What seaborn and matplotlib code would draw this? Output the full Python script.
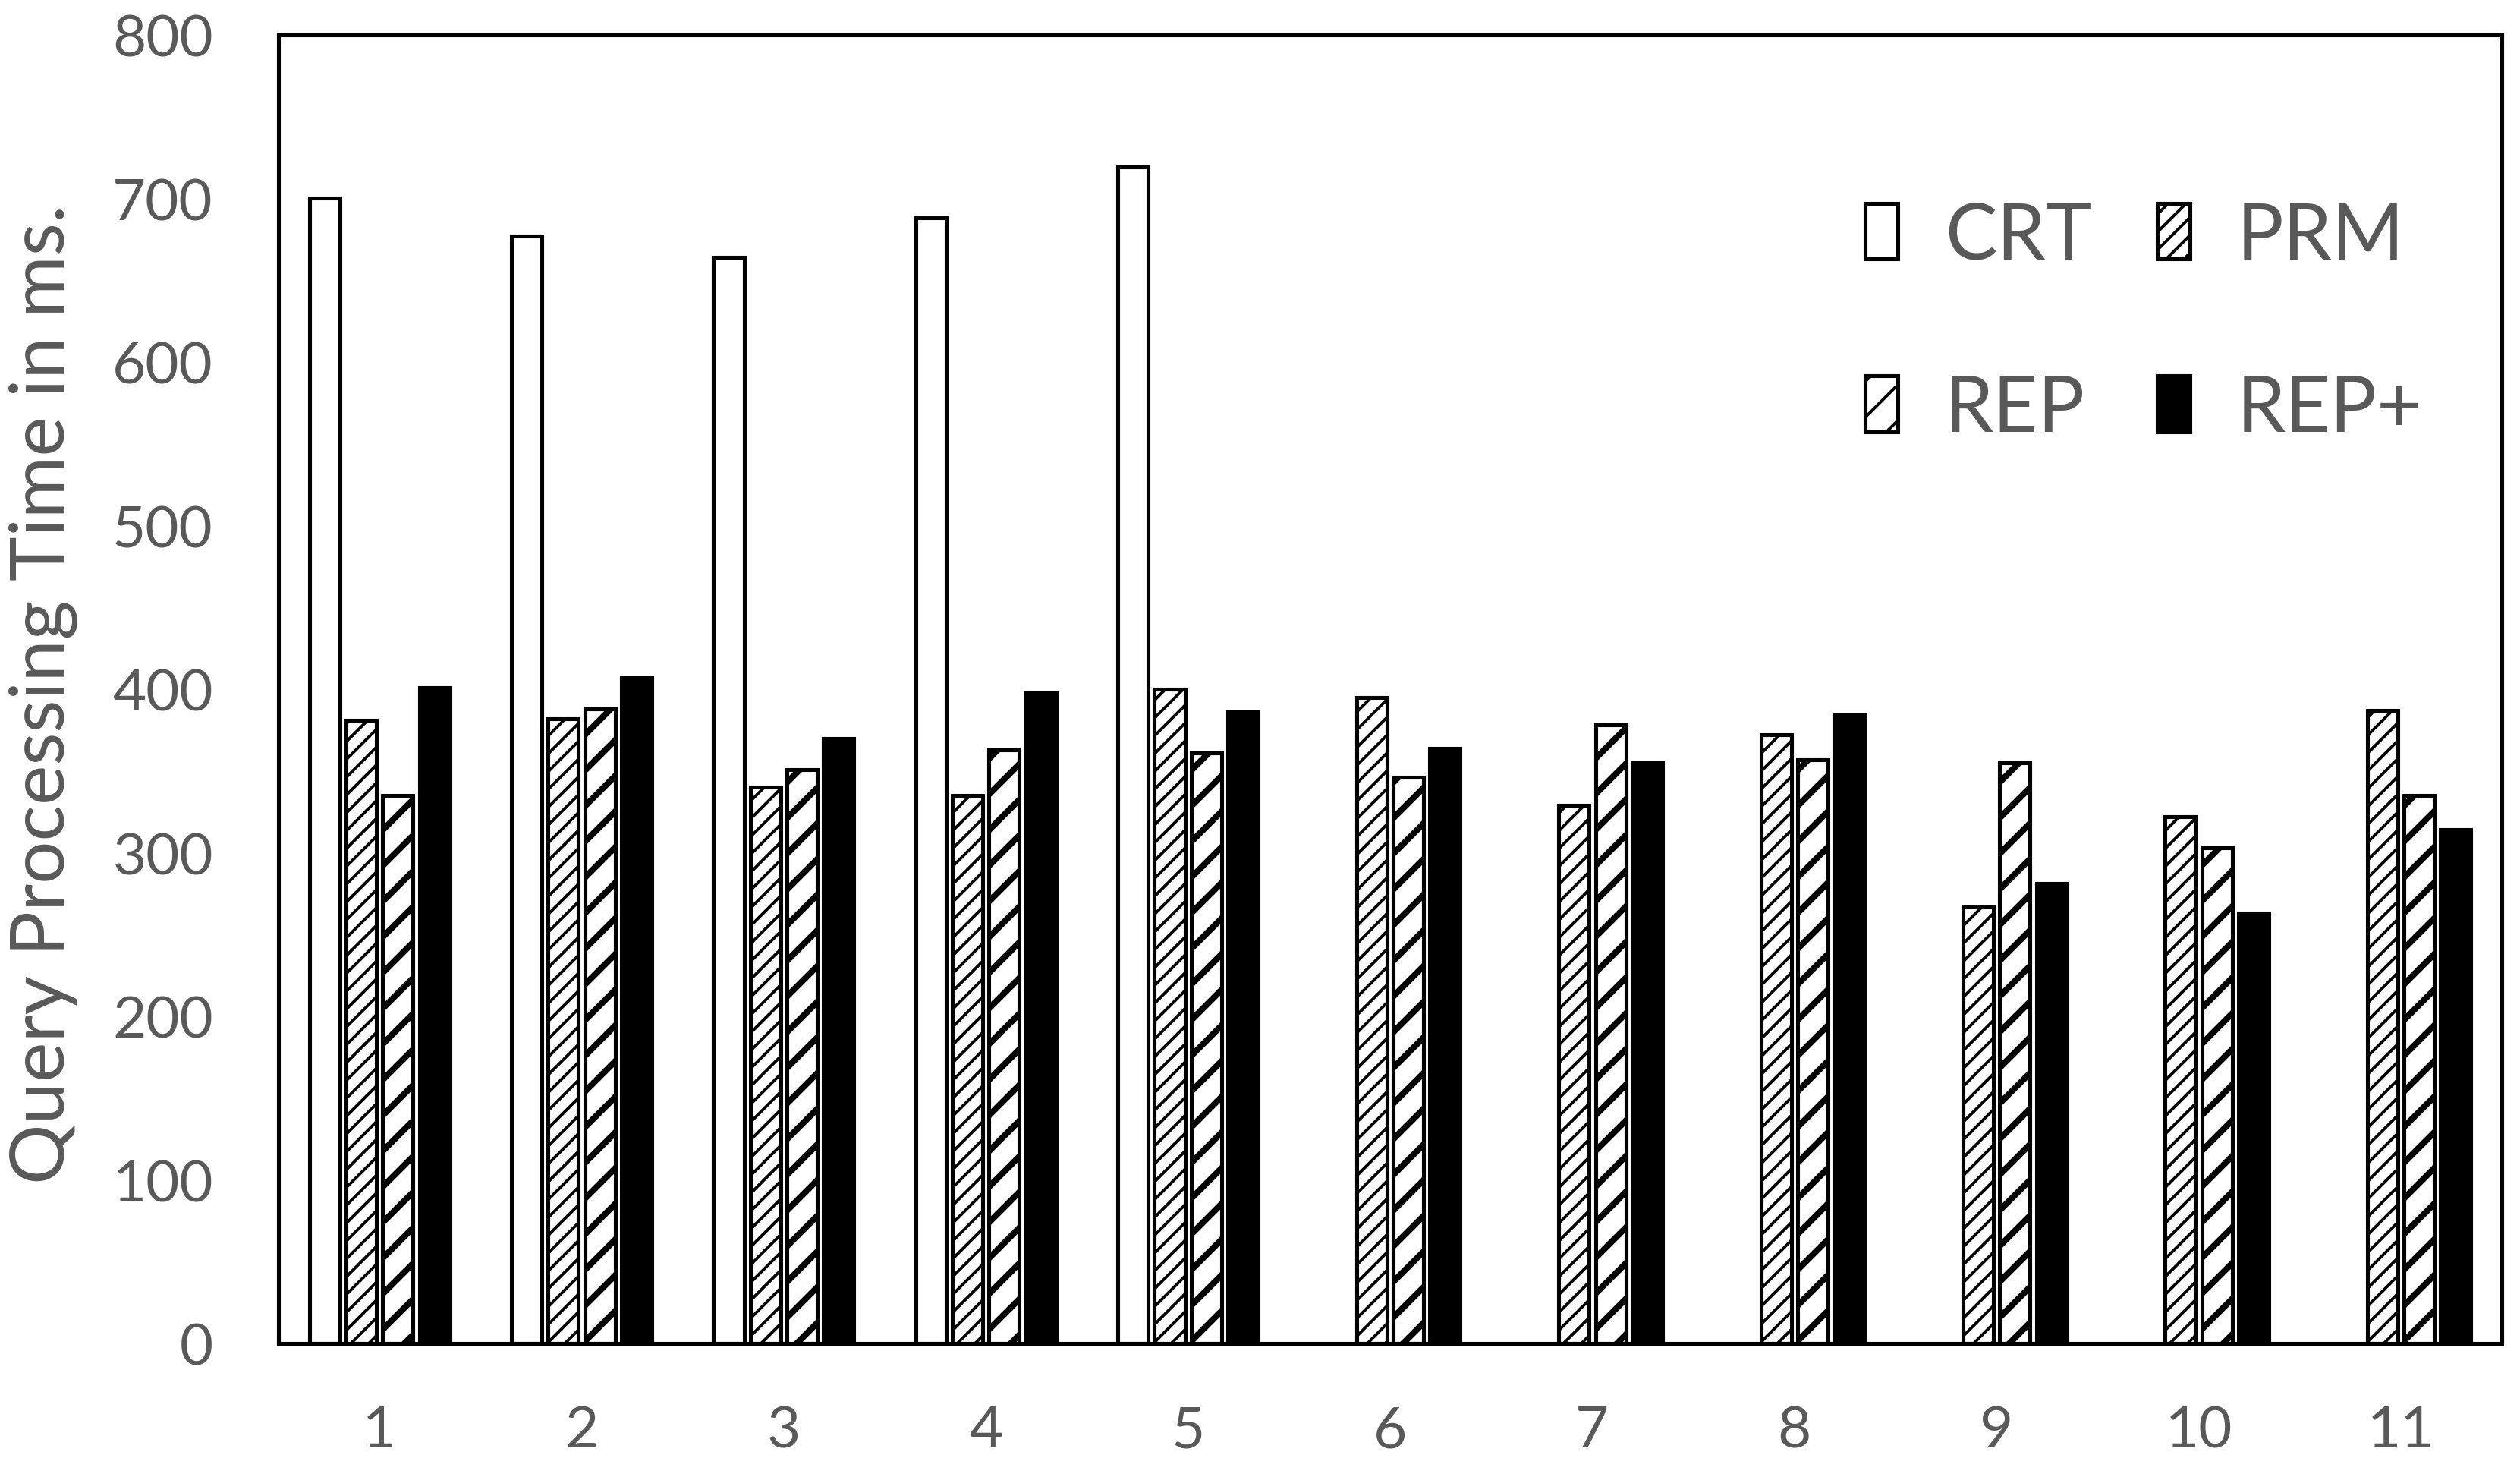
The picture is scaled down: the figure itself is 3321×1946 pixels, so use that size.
import numpy as np
import pandas as pd
import matplotlib
matplotlib.use("Agg")
import matplotlib.pyplot as plt
import seaborn as sns

# query ids on the x axis
queries = [str(i) for i in range(1, 12)]
methods = ["CRT", "PRM", "REP", "REP+"]

# processing time (ms), CRT only for first 5 queries
crt = [700, 677, 664, 688, 719, np.nan, np.nan, np.nan, np.nan, np.nan, np.nan]
prm = [381, 382, 340, 335, 400, 395, 329, 372, 267, 322, 387]
rep = [335, 388, 351, 363, 361, 346, 378, 357, 355, 303, 335]
rep_plus = [401, 407, 370, 398, 386, 364, 355, 384, 281, 263, 314]

yticks = [0, 100, 200, 300, 400, 500, 600, 700, 800]

df = pd.DataFrame({
    "query": queries * 4,
    "method": ["CRT"] * 11 + ["PRM"] * 11 + ["REP"] * 11 + ["REP+"] * 11,
    "time": crt + prm + rep + rep_plus,
})

sns.set_style("white")
plt.rcParams["font.family"] = ["Lato", "DejaVu Sans"]
grey = "#595959"

DPI = 282
fig = plt.figure(figsize=(3321 / DPI, 1947 / DPI), dpi=DPI)
ax = fig.add_axes([0.1105, 0.0904, 0.8823, 0.8855])

sns.barplot(data=df, x="query", y="time", hue="method", hue_order=methods,
            order=queries, palette=["white", "white", "white", "black"],
            saturation=1, edgecolor="black", linewidth=1.3, width=0.725,
            gap=0.17, errorbar=None, legend=False, ax=ax)

# hatch patterns: PRM fine, REP coarse and thick
hatches = ["", "////", "//", ""]
hatch_lw = [1, 1.0, 2.1, 1]
for cont, h, hl in zip(ax.containers, hatches, hatch_lw):
    for p in cont.patches:
        p.set_hatch(h)
        if hasattr(p, "set_hatch_linewidth"):
            p.set_hatch_linewidth(hl)

ax.set_ylim(0, 800)
ax.set_yticks(yticks)
ax.set_xlabel("")
ax.set_ylabel("")
ax.tick_params(length=0, labelsize=19.5, labelcolor=grey)
ax.tick_params(axis="y", pad=22)
ax.tick_params(axis="x", pad=20.5)
for s in ax.spines.values():
    s.set_visible(True)
    s.set_color("black")
    s.set_linewidth(1.3)

ylab = fig.text(0.0172, 0.530, "Query Processing Time in ms.", rotation=90,
                ha="center", va="center", fontsize=24.5, color=grey)
# scale the label so it covers the same length as in the original (~1290px)
fig.canvas.draw()
span = ylab.get_window_extent().height
ylab.set_fontsize(24.5 * 1290 / span)

# legend filled column-wise, so order gives rows CRT/PRM and REP/REP+
c = ax.containers
leg = ax.legend([c[0], c[2], c[1], c[3]], ["CRT", "REP", "PRM", "REP+"],
                ncol=2, loc="center", bbox_to_anchor=(0.839, 0.78),
                frameon=False, fontsize=26.2, handlelength=0.42,
                handleheight=0.72, handletextpad=0.6, columnspacing=0.85,
                labelspacing=1.3, borderpad=0, labelcolor=grey)

fig.savefig("out.png", dpi=DPI)
